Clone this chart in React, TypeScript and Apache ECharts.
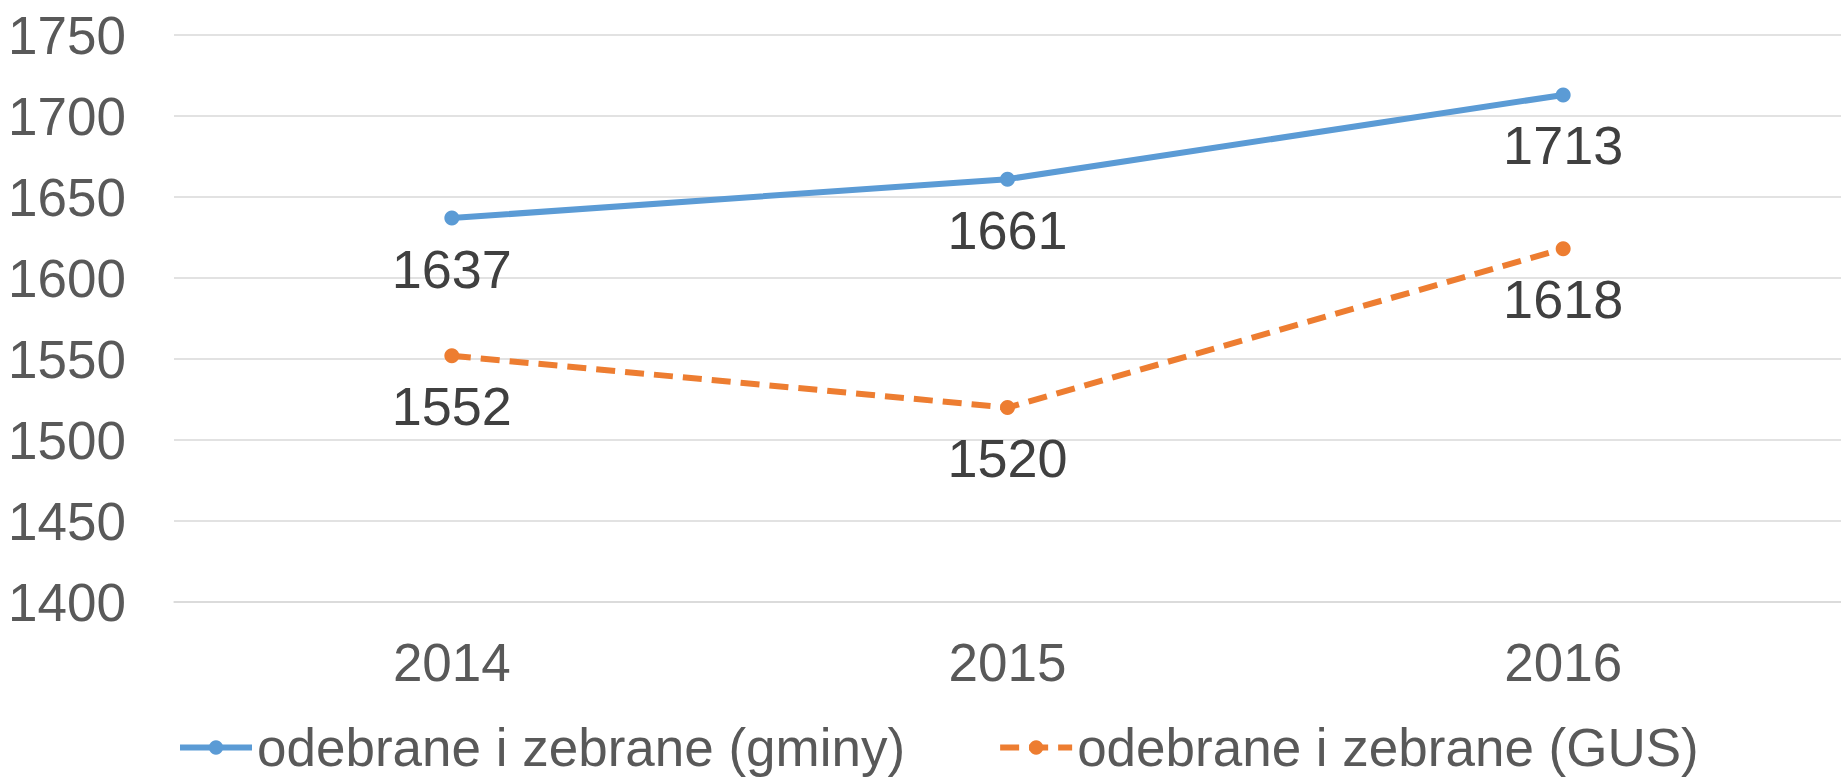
import React, { useEffect, useRef } from "react";
import * as echarts from "echarts";

const categories = ["2014", "2015", "2016"];
const gminyValues = [1637, 1661, 1713];
const gusValues = [1552, 1520, 1618];
const seriesNames = ["odebrane i zebrane (gminy)", "odebrane i zebrane (GUS)"];
const yMin = 1400;
const yMax = 1750;
const yInterval = 50;

const FONT = "'Liberation Sans', Arial, sans-serif";

export default function App() {
  const ref = useRef<HTMLDivElement>(null);
  useEffect(() => {
    if (!ref.current) return;
    const chart = echarts.init(ref.current, undefined, { renderer: "svg" });
    const labelStyle = {
      show: true,
      position: "bottom" as const,
      distance: 16,
      fontSize: 54,
      color: "#404040",
      fontFamily: FONT,
    };
    chart.setOption({
      animation: false,
      backgroundColor: "#ffffff",
      textStyle: { fontFamily: FONT },
      grid: { left: 174, width: 1674, top: 35, bottom: 175, containLabel: false },
      legend: {
        left: 177,
        top: 721,
        padding: 0,
        itemWidth: 72,
        itemHeight: 18,
        itemGap: 92,
        lineStyle: { width: 6 },
        textStyle: { fontSize: 53, color: "#595959", fontFamily: FONT },
        data: seriesNames,
      },
      xAxis: {
        type: "category",
        data: categories,
        boundaryGap: true,
        axisLine: { show: true, lineStyle: { color: "#D9D9D9", width: 1.5 } },
        axisTick: { show: false },
        axisLabel: { fontSize: 53, color: "#595959", margin: 34, fontFamily: FONT },
      },
      yAxis: {
        type: "value",
        min: yMin,
        max: yMax,
        interval: yInterval,
        axisLine: { show: false },
        axisTick: { show: false },
        axisLabel: {
          fontSize: 53,
          color: "#595959",
          margin: 48,
          fontFamily: FONT,
          formatter: (v: number) => String(v),
        },
        splitLine: { lineStyle: { color: "#D9D9D9", width: 1.5 } },
      },
      series: [
        {
          name: seriesNames[0],
          type: "line",
          data: gminyValues,
          symbol: "circle",
          symbolSize: 15,
          itemStyle: { color: "#5B9BD5" },
          lineStyle: { color: "#5B9BD5", width: 6 },
          label: labelStyle,
        },
        {
          name: seriesNames[1],
          type: "line",
          data: gusValues,
          symbol: "circle",
          symbolSize: 15,
          itemStyle: { color: "#ED7D31" },
          lineStyle: { color: "#ED7D31", width: 6, type: [19, 10] },
          label: labelStyle,
        },
      ],
    });
    return () => chart.dispose();
  }, []);
  return (
    <div
      ref={ref}
      style={{ position: "fixed", left: 0, top: 0, width: 1841, height: 777, background: "#fff" }}
    />
  );
}
